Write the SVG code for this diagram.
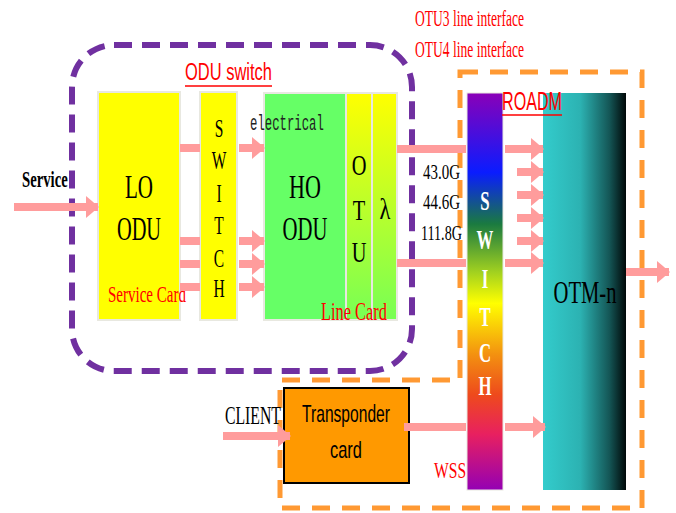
<svg xmlns="http://www.w3.org/2000/svg" width="676" height="513" viewBox="0 0 676 513">
<style>
.arr{stroke:#ff9c9c;stroke-width:8;fill:none}
.serif{font-family:"Liberation Serif","Times New Roman",serif;fill:#000}
.red{fill:#ff0000}
.sans{font-family:"Liberation Sans",Arial,sans-serif}
.box{stroke:#e8e8e0;stroke-width:2}
.mid{text-anchor:middle}
.wl{font-family:"Liberation Serif",serif;fill:#fff;font-size:28px;font-weight:bold;text-anchor:middle}
.bl{font-family:"Liberation Serif",serif;fill:#000;font-size:25px;text-anchor:middle}
</style>
<defs>
<marker id="ah" markerUnits="userSpaceOnUse" markerWidth="14" markerHeight="22" refX="12" refY="11" orient="auto">
<path d="M0,0 L13,11 L0,22 Z" fill="#ff9c9c"/>
</marker>
<linearGradient id="gOtu" x1="0" y1="0" x2="0" y2="1">
<stop offset="0" stop-color="#ffff00"/>
<stop offset="1" stop-color="#77ff55"/>
</linearGradient>
<linearGradient id="gSw" x1="0" y1="0" x2="0" y2="1">
<stop offset="0" stop-color="#8a00b8"/>
<stop offset="0.2" stop-color="#0a1cff"/>
<stop offset="0.33" stop-color="#1a7a40"/>
<stop offset="0.45" stop-color="#a0d020"/>
<stop offset="0.53" stop-color="#ffff00"/>
<stop offset="0.66" stop-color="#f39010"/>
<stop offset="0.76" stop-color="#ee4a1c"/>
<stop offset="0.86" stop-color="#e82060"/>
<stop offset="1" stop-color="#9400b4"/>
</linearGradient>
<linearGradient id="gOtm" x1="0" y1="0" x2="1" y2="0">
<stop offset="0" stop-color="#33cccc"/>
<stop offset="0.45" stop-color="#2cb2b2"/>
<stop offset="0.8" stop-color="#145656"/>
<stop offset="1" stop-color="#000808"/>
</linearGradient>
</defs>

<g id="odu-switch-frame">
<rect x="72" y="45" width="340" height="326" rx="42" fill="none" stroke="#7030a0" stroke-width="6" stroke-dasharray="18 10"/>
</g>
<g id="roadm-frame">
<path d="M460,72 L642,72 L642,508 L280,508 L280,380 L460,380 Z" fill="none" stroke="#ff9933" stroke-width="5" stroke-dasharray="18 12"/>
</g>

<g id="lo-odu">
<rect x="98" y="92" width="82" height="228" fill="#ffff00" class="box"/>
<text transform="translate(139,198) scale(0.62,1)" class="serif mid" font-size="34">LO</text>
<text transform="translate(139,240) scale(0.6,1)" class="serif mid" font-size="34">ODU</text>
<text transform="translate(108,302) scale(0.626,1)" class="serif red" font-size="24">Service Card</text>
</g>

<g id="odu-switch">
<rect x="200" y="92" width="37" height="228" fill="#ffff00" class="box"/>
<text transform="translate(219,137) scale(0.62,1)" class="bl">S</text>
<text transform="translate(219,169) scale(0.62,1)" class="bl">W</text>
<text transform="translate(219,202) scale(0.62,1)" class="bl">I</text>
<text transform="translate(219,234) scale(0.62,1)" class="bl">T</text>
<text transform="translate(219,267) scale(0.62,1)" class="bl">C</text>
<text transform="translate(219,297) scale(0.62,1)" class="bl">H</text>
</g>

<g id="ho-odu">
<rect x="264" y="93" width="82" height="227" fill="#66ff66" class="box"/>
<text transform="translate(305,198) scale(0.65,1)" class="serif mid" font-size="34">HO</text>
<text transform="translate(305,240) scale(0.61,1)" class="serif mid" font-size="34">ODU</text>
</g>
<g id="otu">
<rect x="346" y="93" width="26" height="227" fill="url(#gOtu)" class="box"/>
<text transform="translate(359,175) scale(0.68,1)" class="serif mid" font-size="30">O</text>
<text transform="translate(359,220) scale(0.68,1)" class="serif mid" font-size="30">T</text>
<text transform="translate(359,262) scale(0.68,1)" class="serif mid" font-size="30">U</text>
</g>
<g id="lambda">
<rect x="372" y="93" width="25" height="227" fill="url(#gOtu)" class="box"/>
<text transform="translate(385,219) scale(0.75,1)" class="serif mid" font-size="30">λ</text>
</g>

<g id="wss-switch">
<rect x="467" y="93" width="36" height="397" fill="url(#gSw)" stroke="#e8e8e0" stroke-width="1"/>
<text transform="translate(485,210) scale(0.6,1)" class="wl">S</text>
<text transform="translate(485,249) scale(0.6,1)" class="wl">W</text>
<text transform="translate(485,288) scale(0.6,1)" class="wl">I</text>
<text transform="translate(485,326) scale(0.6,1)" class="wl">T</text>
<text transform="translate(485,362) scale(0.6,1)" class="wl">C</text>
<text transform="translate(485,395) scale(0.6,1)" class="wl">H</text>
</g>

<g id="otm-n">
<rect x="543" y="93" width="83" height="397" fill="url(#gOtm)"/>
<text transform="translate(585,303) scale(0.665,1)" class="serif mid" font-size="31">OTM-n</text>
</g>

<g id="transponder">
<rect x="284" y="388" width="125" height="95" fill="#ff9900" stroke="#000" stroke-width="2"/>
<text transform="translate(346,422) scale(0.65,1)" class="sans mid" font-size="24">Transponder</text>
<text transform="translate(346,458) scale(0.685,1)" class="sans mid" font-size="24">card</text>
</g>

<g id="connectors">
<line x1="14" y1="207" x2="98" y2="207" class="arr" marker-end="url(#ah)"/>
<line x1="180" y1="148" x2="200" y2="148" class="arr"/>
<line x1="180" y1="241" x2="200" y2="241" class="arr"/>
<line x1="180" y1="264" x2="200" y2="264" class="arr"/>
<line x1="180" y1="287" x2="200" y2="287" class="arr"/>
<line x1="239" y1="148" x2="264" y2="148" class="arr" marker-end="url(#ah)"/>
<line x1="239" y1="241" x2="264" y2="241" class="arr" marker-end="url(#ah)"/>
<line x1="239" y1="264" x2="264" y2="264" class="arr" marker-end="url(#ah)"/>
<line x1="239" y1="287" x2="264" y2="287" class="arr" marker-end="url(#ah)"/>
<line x1="397" y1="149" x2="466" y2="149" class="arr"/>
<line x1="397" y1="263" x2="466" y2="263" class="arr"/>
<line x1="505" y1="149" x2="543" y2="149" class="arr" marker-end="url(#ah)"/>
<line x1="517" y1="172" x2="543" y2="172" class="arr" marker-end="url(#ah)"/>
<line x1="517" y1="195" x2="543" y2="195" class="arr" marker-end="url(#ah)"/>
<line x1="517" y1="218" x2="543" y2="218" class="arr" marker-end="url(#ah)"/>
<line x1="517" y1="241" x2="543" y2="241" class="arr" marker-end="url(#ah)"/>
<line x1="505" y1="263" x2="543" y2="263" class="arr" marker-end="url(#ah)"/>
<line x1="626" y1="272" x2="669" y2="272" class="arr" marker-end="url(#ah)"/>
<line x1="223" y1="436" x2="290" y2="436" class="arr" marker-end="url(#ah)"/>
<line x1="404" y1="427" x2="466" y2="427" class="arr"/>
<line x1="505" y1="427" x2="545" y2="427" class="arr" marker-end="url(#ah)"/>
</g>

<g id="labels">
<text transform="translate(185,80) scale(0.687,1)" class="sans red" font-size="24">ODU switch</text>
<line x1="185" y1="86" x2="272" y2="86" stroke="#ff0000" stroke-width="1.5"/>
<text transform="translate(502,110) scale(0.645,1)" class="sans red" font-size="25">ROADM</text>
<line x1="502" y1="115" x2="562" y2="115" stroke="#ff0000" stroke-width="1.5"/>
<text transform="translate(321,320) scale(0.655,1)" class="serif red" font-size="25">Line Card</text>
<text transform="translate(415,26) scale(0.565,1)" class="serif red" font-size="24">OTU3 line interface</text>
<text transform="translate(415,57) scale(0.565,1)" class="serif red" font-size="24">OTU4 line interface</text>
<text transform="translate(22,187) scale(0.64,1)" class="serif" font-size="23" font-weight="bold">Service</text>
<text transform="translate(250,130) scale(0.56,1)" font-family="Liberation Mono, monospace" font-size="22" fill="#222">electrical</text>
<text transform="translate(423,179) scale(0.68,1)" class="serif" font-size="22">43.0G</text>
<text transform="translate(423,209) scale(0.68,1)" class="serif" font-size="22">44.6G</text>
<text transform="translate(421,240) scale(0.642,1)" class="serif" font-size="22">111.8G</text>
<text transform="translate(225,424) scale(0.63,1)" class="serif" font-size="25">CLIENT</text>
<text transform="translate(434,478) scale(0.68,1)" class="serif red" font-size="23">WSS</text>
</g>
</svg>
